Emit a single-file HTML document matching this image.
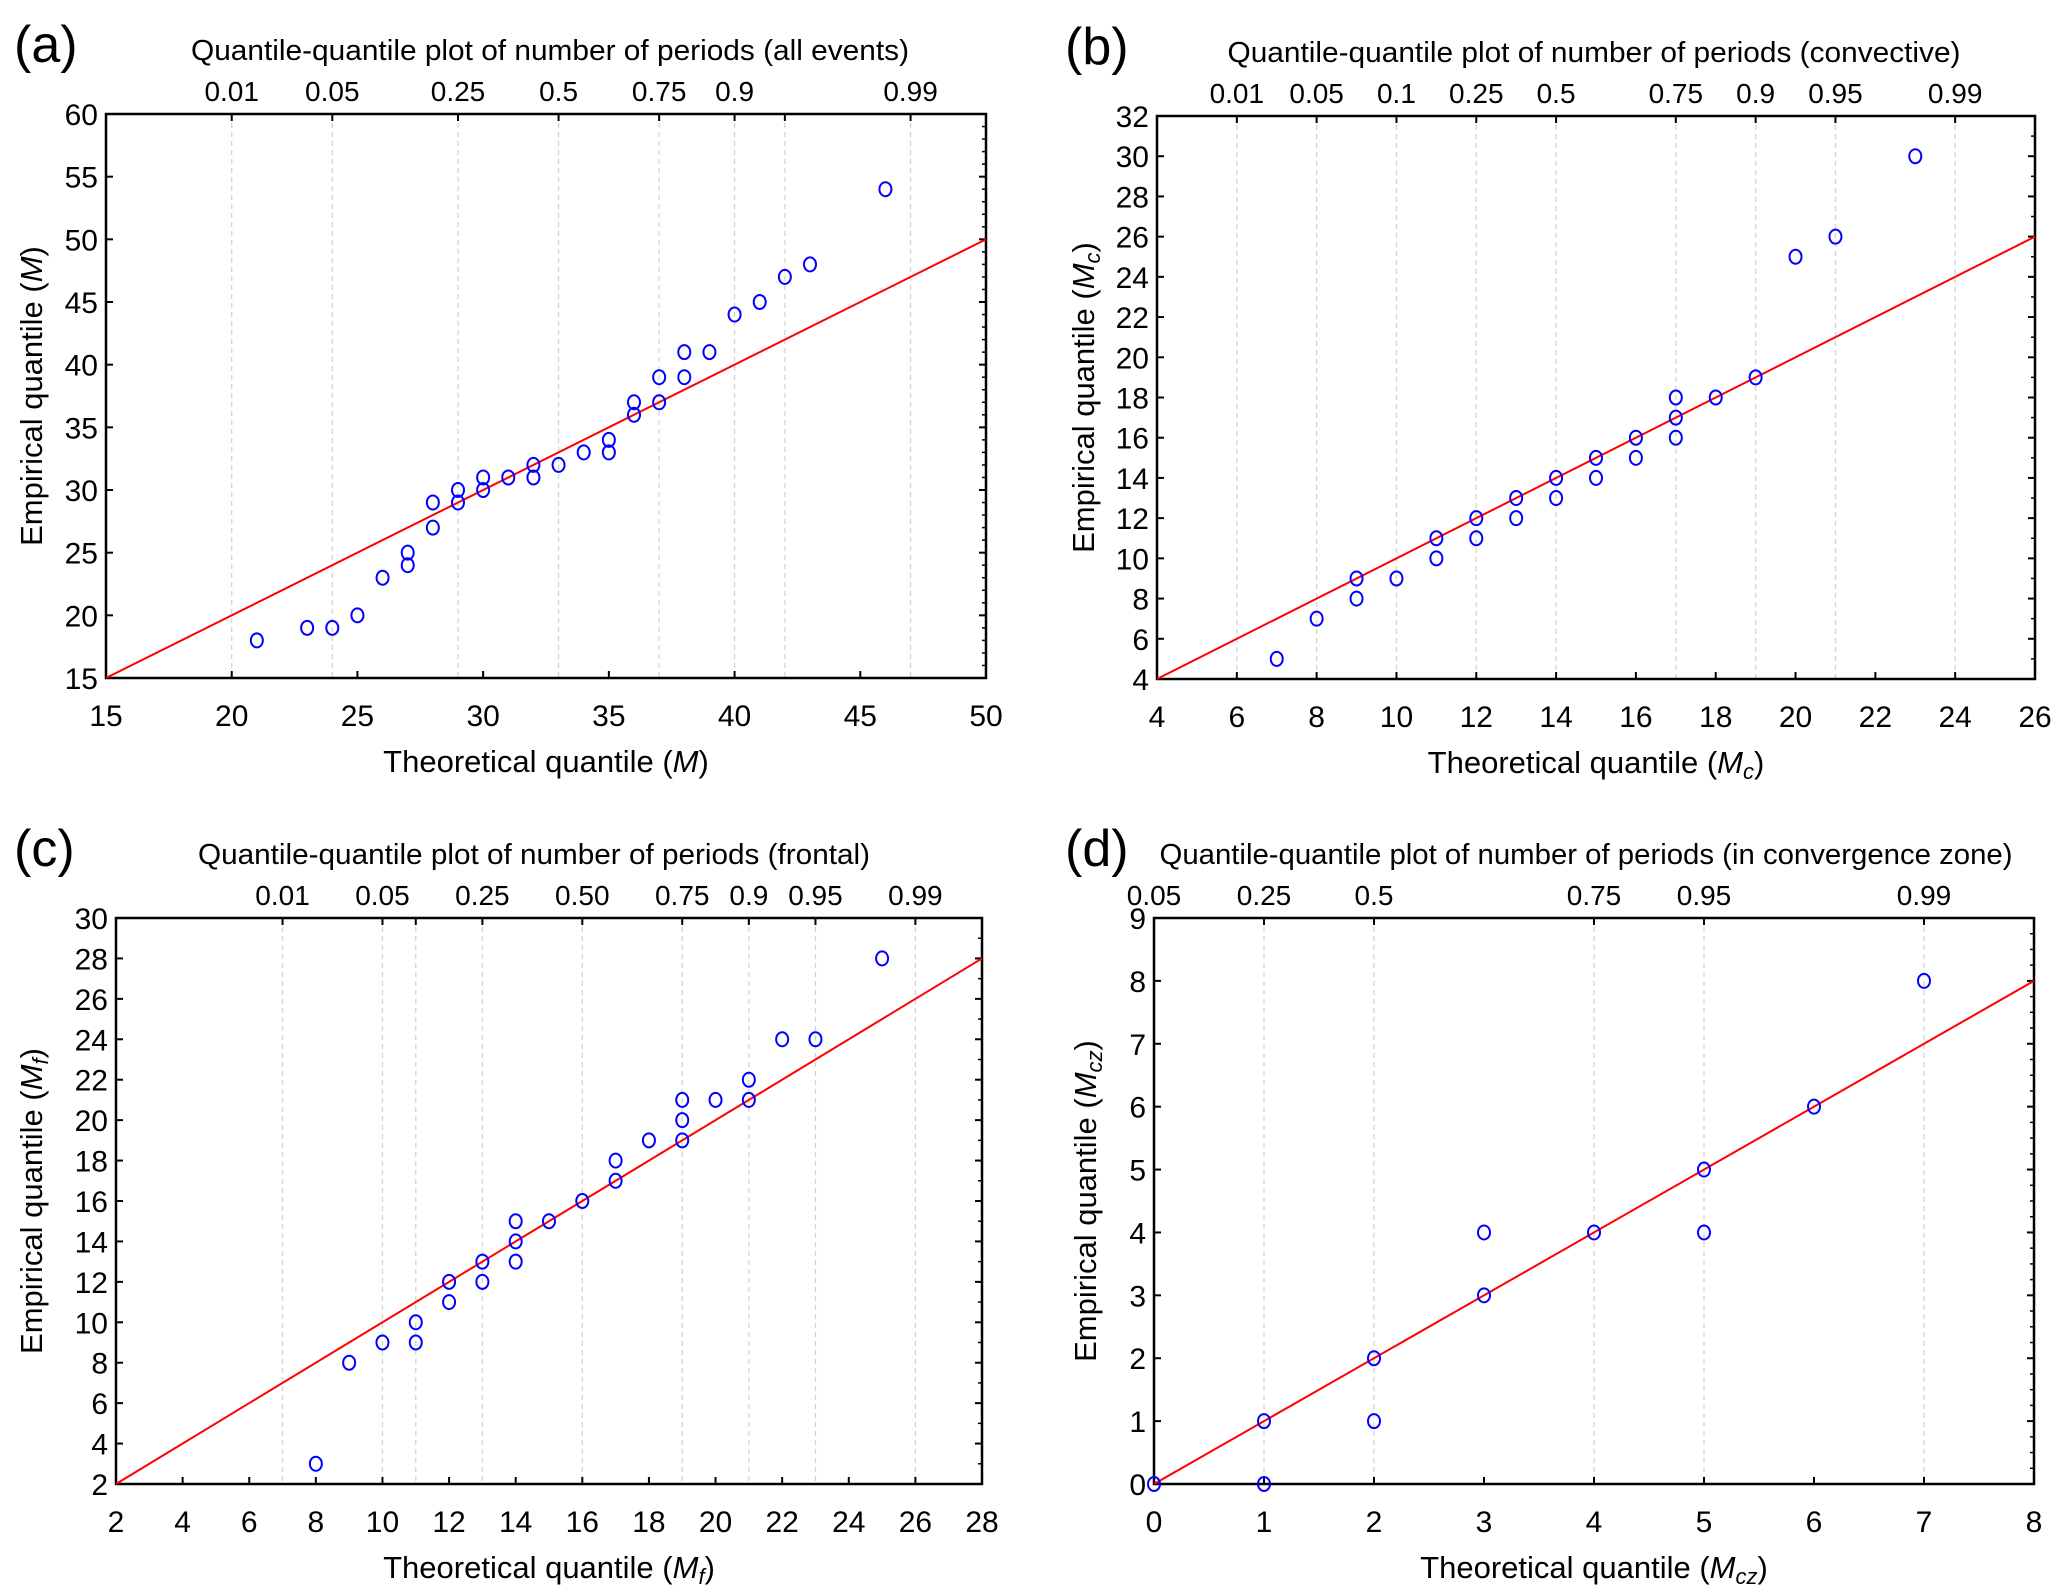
<!DOCTYPE html>
<html><head><meta charset="utf-8"><style>
html,body{margin:0;padding:0;background:#fff;}
svg{display:block;font-family:"Liberation Sans",Arial,sans-serif;}
</style></head><body>
<svg id="fig" width="2067" height="1594" viewBox="0 0 2067 1594" xmlns="http://www.w3.org/2000/svg"></svg>
<script>
// Panel (a)
const aTheo = [21,23,24,25,26,27,27,28,28,29,29,30,30,31,32,32,33,34,35,35,36,36,37,37,38,38,39,40,41,42,43,46];
const aEmp  = [18,19,19,20,23,24,25,27,29,29,30,30,31,31,31,32,32,33,33,34,36,37,37,39,39,41,41,44,45,47,48,54];
const aXTicks = [15,20,25,30,35,40,45,50];
const aYTicks = [15,20,25,30,35,40,45,50,55,60];
const aTopPos = [20,24,29,33,37,40,42,47];
const aTopLab = ["0.01","0.05","0.25","0.5","0.75","0.9","","0.99"];
// Panel (b)
const bTheo = [7,8,9,9,10,11,11,12,12,13,13,14,14,15,15,16,16,17,17,17,18,19,20,21,23];
const bEmp  = [5,7,8,9,9,10,11,11,12,12,13,13,14,14,15,15,16,16,17,18,18,19,25,26,30];
const bXTicks = [4,6,8,10,12,14,16,18,20,22,24,26];
const bYTicks = [4,6,8,10,12,14,16,18,20,22,24,26,28,30,32];
const bTopPos = [6,8,10,12,14,17,19,21,24];
const bTopLab = ["0.01","0.05","0.1","0.25","0.5","0.75","0.9","0.95","0.99"];
// Panel (c)
const cTheo = [8,9,10,11,11,12,12,13,13,14,14,14,15,16,17,17,18,19,19,19,20,21,21,22,23,25];
const cEmp  = [3,8,9,9,10,11,12,12,13,13,14,15,15,16,17,18,19,19,20,21,21,21,22,24,24,28];
const cXTicks = [2,4,6,8,10,12,14,16,18,20,22,24,26,28];
const cYTicks = [2,4,6,8,10,12,14,16,18,20,22,24,26,28,30];
const cTopPos = [7,10,11,13,16,19,21,23,26];
const cTopLab = ["0.01","0.05","","0.25","0.50","0.75","0.9","0.95","0.99"];
// Panel (d)
const dTheo = [0,1,1,2,2,3,3,4,5,5,6,7];
const dEmp  = [0,0,1,1,2,3,4,4,4,5,6,8];
const dXTicks = [0,1,2,3,4,5,6,7,8];
const dYTicks = [0,1,2,3,4,5,6,7,8,9];
const dTopPos = [0,1,2,4,5,7];
const dTopLab = ["0.05","0.25","0.5","0.75","0.95","0.99"];

const NS="http://www.w3.org/2000/svg";
const svg=document.getElementById('fig');
function mk(tag,attrs,parent){const e=document.createElementNS(NS,tag);for(const k in attrs)e.setAttribute(k,attrs[k]);(parent||svg).appendChild(e);return e;}

const panels=[
 {id:'a',L:106,R:986,T:114,B:678,x0:15,x1:50,y0:15,y1:60,xt:aXTicks,yt:aYTicks,tp:aTopPos,tl:aTopLab,xs:aTheo,ys:aEmp,minor:1,
  title:"Quantile-quantile plot of number of periods (all events)",tcx:550,tw:718,sub:"",ylabx:31,letterX:14},
 {id:'b',L:1157,R:2035,T:116,B:679,x0:4,x1:26,y0:4,y1:32,xt:bXTicks,yt:bYTicks,tp:bTopPos,tl:bTopLab,xs:bTheo,ys:bEmp,minor:1,
  title:"Quantile-quantile plot of number of periods (convective)",tcx:1594,tw:733,sub:"c",ylabx:1083,letterX:1065},
 {id:'c',L:116,R:982,T:918,B:1484,x0:2,x1:28,y0:2,y1:30,xt:cXTicks,yt:cYTicks,tp:cTopPos,tl:cTopLab,xs:cTheo,ys:cEmp,minor:1,
  title:"Quantile-quantile plot of number of periods (frontal)",tcx:534,tw:672,sub:"f",ylabx:31,letterX:14},
 {id:'d',L:1154,R:2034,T:918,B:1484,x0:0,x1:8,y0:0,y1:9,xt:dXTicks,yt:dYTicks,tp:dTopPos,tl:dTopLab,xs:dTheo,ys:dEmp,minor:0.25,
  title:"Quantile-quantile plot of number of periods (in convergence zone)",tcx:1586,tw:853,sub:"cz",ylabx:1085,letterX:1065}
];

panels.forEach(p=>{
  const g=mk('g',{});
  
  
  const sx=v=>p.L+(v-p.x0)/(p.x1-p.x0)*(p.R-p.L);
  const sy=v=>p.B-(v-p.y0)/(p.y1-p.y0)*(p.B-p.T);
  const top=p.T;
  const lt=mk('text',{x:p.letterX,y:top-52,'font-size':52},g);lt.textContent='('+p.id+')';
  
  
  const tt=mk('text',{x:p.tcx-p.tw/2,y:top-54,'font-size':29,textLength:p.tw,lengthAdjust:'spacingAndGlyphs'},g);tt.textContent=p.title;
  
  
  p.tp.forEach((v,i)=>{
    const gl=mk('line',{x1:sx(v),x2:sx(v),y1:p.T,y2:p.B,stroke:'#d4d4d4','stroke-width':1.3,'stroke-dasharray':'5,4'},g);
    
    
    mk('line',{x1:sx(v),x2:sx(v),y1:p.T,y2:p.T+7,stroke:'#000','stroke-width':2},g);
    if(p.tl[i]){const t=mk('text',{x:sx(v),y:top-13,'font-size':28,'text-anchor':'middle'},g);t.textContent=p.tl[i];
      
      }
  });
  p.xt.forEach(v=>{
    mk('line',{x1:sx(v),x2:sx(v),y1:p.B,y2:p.B-7,stroke:'#000','stroke-width':2},g);
    const t=mk('text',{x:sx(v),y:p.B+48,'font-size':30,'text-anchor':'middle'},g);t.textContent=v;
    
    
  });
  p.yt.forEach(v=>{
    mk('line',{x1:p.L,x2:p.L+7,y1:sy(v),y2:sy(v),stroke:'#000','stroke-width':2},g);
    mk('line',{x1:p.R,x2:p.R-7,y1:sy(v),y2:sy(v),stroke:'#000','stroke-width':2},g);
    const t=mk('text',{x:p.L-8,y:sy(v)+11,'font-size':30,'text-anchor':'end'},g);t.textContent=v;
    
    
  });
  for(let v=p.y0;v<=p.y1+1e-9;v+=p.minor){mk('line',{x1:p.R,x2:p.R-4,y1:sy(v),y2:sy(v),stroke:'#000','stroke-width':1.5},g);}
  const box=mk('rect',{x:p.L,y:p.T,width:p.R-p.L,height:p.B-p.T,fill:'none',stroke:'#000','stroke-width':2.5},g);
  
  
  const lx0=Math.max(p.x0,p.y0), lx1=Math.min(p.x1,p.y1);
  const rl=mk('line',{x1:sx(lx0),y1:sy(lx0),x2:sx(lx1),y2:sy(lx1),stroke:'#ff0000','stroke-width':2},g);
  
  
  p.xs.forEach((xv,i)=>{
    const c=mk('ellipse',{cx:sx(xv),cy:sy(p.ys[i]),rx:6,ry:7,fill:'none',stroke:'#0000ff','stroke-width':2},g);
    
    
  });
  const cx=(p.L+p.R)/2;
  const xl=mk('text',{x:cx,y:p.B+94,'font-size':31,'text-anchor':'middle'},g);
  
  
  const cy=(p.T+p.B)/2;
  const yl=mk('text',{x:0,y:0,'font-size':31,'text-anchor':'middle',transform:`translate(${p.ylabx+11},${cy}) rotate(-90)`},g);
  
  
  [[xl,'Theoretical quantile '],[yl,'Empirical quantile ']].forEach(([el,txt])=>{
    el.appendChild(document.createTextNode(txt+'('));
    const m=mk('tspan',{'font-style':'italic'},el);m.textContent='M';
    if(p.sub){const s=mk('tspan',{'font-style':'italic','font-size':22,dy:6},el);s.textContent=p.sub;
      const r=mk('tspan',{dy:-6},el);r.textContent=')';}
    else el.appendChild(document.createTextNode(')'));
  });
});
</script>
</body></html>
